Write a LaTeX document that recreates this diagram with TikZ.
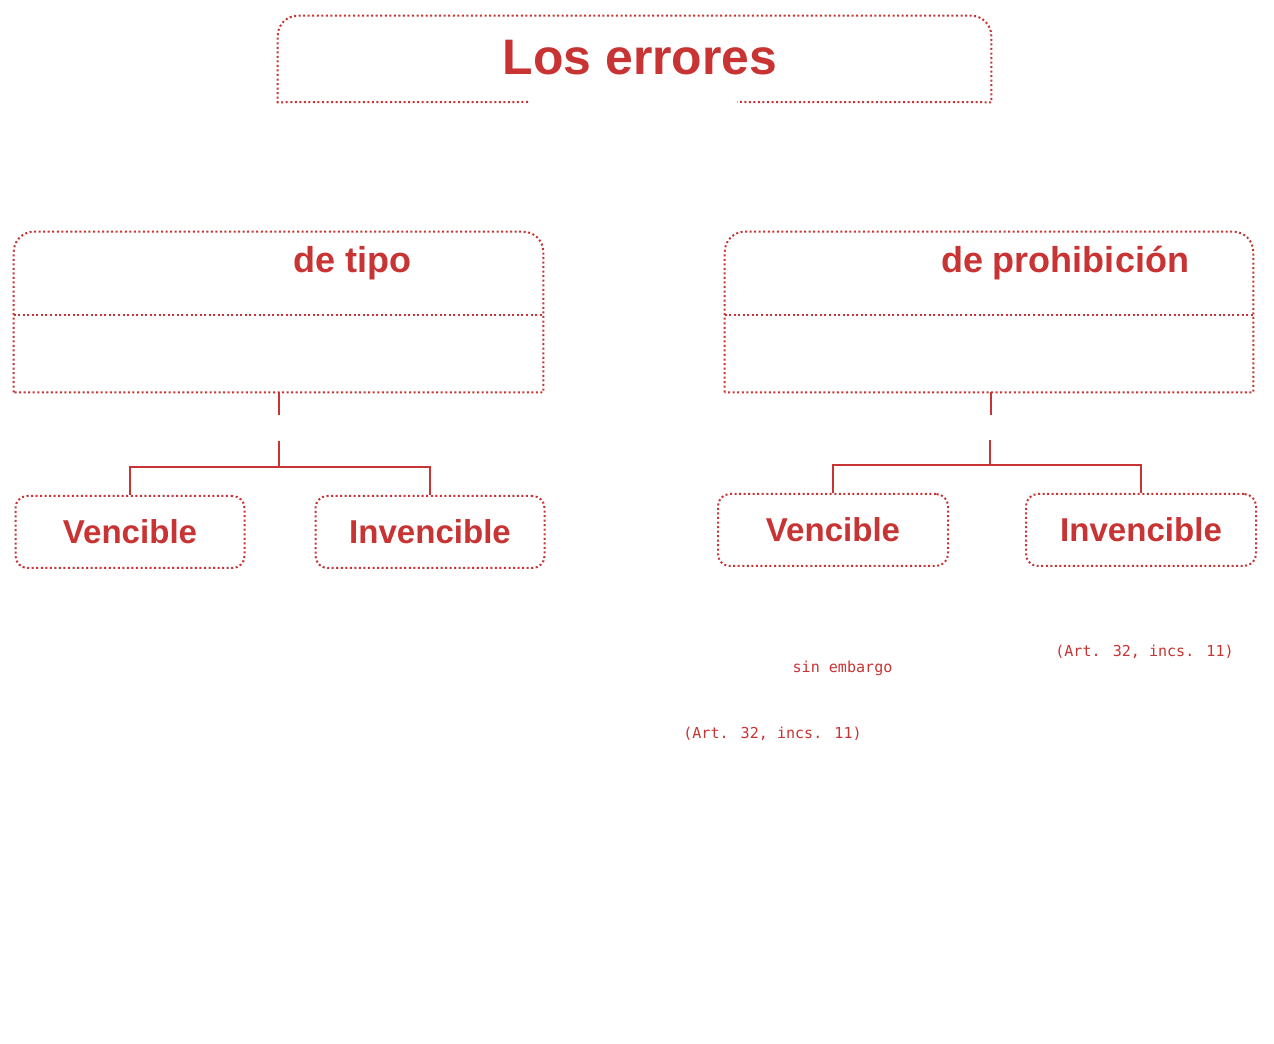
\documentclass[tikz,border=0pt]{standalone}
\usepackage{fontspec}
\setmainfont{Liberation Sans}
\newfontfamily\monofont{DejaVu Sans Mono}
\definecolor{errred}{RGB}{200,51,51}
\begin{document}
\begin{tikzpicture}[x=0.75pt,y=0.75pt,
  dotline/.style={draw=errred,line width=1.5pt,dash pattern=on 1.5pt off 1.9pt},
  conn/.style={draw=errred,line width=1.5pt},
  area/.style={rectangle,draw=none,inner sep=0pt},
  smallbox/.style={rectangle,dotline,rounded corners=9pt,inner sep=0pt,
    minimum width=171.75pt,minimum height=54pt,
    font=\fontsize{24.8}{28}\selectfont\bfseries,text=errred},
  bigtitle/.style={font=\fontsize{27}{32}\selectfont\bfseries,text=errred,inner sep=0pt,anchor=base},
  note/.style={font=\monofont\fontsize{11.3}{14}\selectfont,text=errred,inner sep=0pt}]
\useasboundingbox (0,0) rectangle (1274,1043);
% title
\node[area,minimum width=534.75pt,minimum height=64.5pt] (title) at (634.5,984) {};
\draw[dotline] (528,941) -- (title.south west) -- ([yshift=-15pt]title.north west)
  arc[start angle=180,end angle=90,radius=20] -- ([xshift=-15pt]title.north east)
  arc[start angle=90,end angle=0,radius=20] -- (title.south east) -- (737,941);
\node[bigtitle,font=\fontsize{37.4}{44}\selectfont\bfseries] (titletext) at (640,968) {Los errores};
% big boxes
\node[area,minimum width=396.75pt,minimum height=120pt] (tipo) at (278.5,731) {};
\node[area,minimum width=396pt,minimum height=120pt] (proh) at (989,731) {};
\foreach \b in {tipo,proh}{
  \draw[dotline] (\b.south west) -- ([yshift=-15pt]\b.north west)
    arc[start angle=180,end angle=90,radius=20] -- ([xshift=-15pt]\b.north east)
    arc[start angle=90,end angle=0,radius=20] -- (\b.south east) -- cycle;
  \draw[dotline] ([yshift=-62.25pt]\b.north west) -- ([yshift=-62.25pt]\b.north east);
}
\node[bigtitle] (tipotext) at (352.5,770) {de tipo};
\node[bigtitle] (prohtext) at (1065,770) {de prohibición};
% small boxes
\node[smallbox] (vL) at (130,511) {Vencible};
\node[smallbox] (iL) at (430,511) {Invencible};
\node[smallbox,minimum width=172.5pt] (vR) at (833,513) {Vencible};
\node[smallbox,minimum width=172.5pt] (iR) at (1141,513) {Invencible};
% connectors
\coordinate (jL) at (278.5,576);
\coordinate (jR) at (990,578);
\draw[conn] (tipo.south) -- ++(0,-23);
\draw[conn] ([yshift=19.5pt]jL) -- (jL);
\draw[conn] (vL.north) |- (jL) -| (iL.north);
\draw[conn] (proh.south) ++(1.5,0) -- ++(0,-23);
\draw[conn] ([yshift=18.75pt]jR) -- (jR);
\draw[conn] (vR.north) |- (jR) -| (iR.north);
% notes
\node[note] (sin) at (842.5,375) {sin embargo};
\node[note] (art1) at (1144.5,391) {(Art. 32, incs. 11)};
\node[note] (art2) at (772.5,309) {(Art. 32, incs. 11)};
\end{tikzpicture}
\end{document}
